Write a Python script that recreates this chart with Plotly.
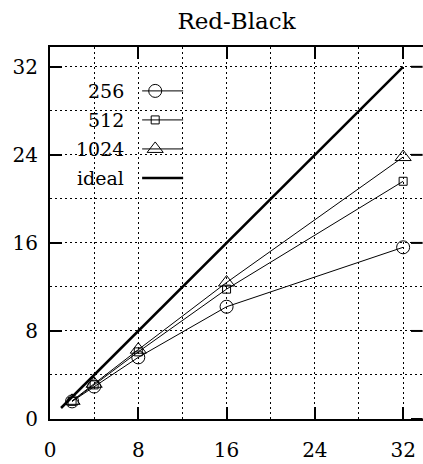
import plotly.graph_objects as go

# Speedup measurements for the Red-Black solver
procs = [2, 4, 8, 16, 32]
speedup_256 = [1.6, 2.95, 5.6, 10.2, 15.6]
speedup_512 = [1.6, 3.1, 6.1, 11.8, 21.6]
speedup_1024 = [1.65, 3.2, 6.3, 12.4, 23.8]
ideal_x = [1, 32]
ideal_y = [1, 32]

series_names = ["256", "512", "1024"]
series_values = [speedup_256, speedup_512, speedup_1024]
series_symbols = ["circle-open", "square-open", "triangle-up-open"]
series_sizes = [13, 8, 14]

tick_vals = [0, 8, 16, 24, 32]
tick_text = ["0", "8", "16", "24", "32"]

FONT = "DejaVu Serif"
W, H = 423, 464
ML, MR, MT, MB = 50, 0, 47, 45
RANGE = [0, 33.8]
TICKLEN = 12

fig = go.Figure()

for name, vals, sym, sz in zip(series_names, series_values, series_symbols, series_sizes):
    fig.add_trace(go.Scatter(
        x=procs, y=vals, mode="lines+markers", name=name, showlegend=False,
        line=dict(color="black", width=1),
        marker=dict(symbol=sym, size=sz, color="black", line=dict(color="black", width=1)),
    ))

fig.add_trace(go.Scatter(
    x=ideal_x, y=ideal_y, mode="lines", name="ideal", showlegend=False,
    line=dict(color="black", width=2.5),
))

# Hand-built key: labels on the left, line samples on the right
key_names = series_names + ["ideal"]
key_symbols = series_symbols + [None]
key_sizes = series_sizes + [0]
row0, row_step = 0.882, 0.078
text_x, line_x0, line_x1, mark_x = 0.204, 0.247, 0.357, 0.282
for i, (nm, sym, sz) in enumerate(zip(key_names, key_symbols, key_sizes)):
    ry = row0 - i * row_step
    is_ideal = sym is None
    fig.add_trace(go.Scatter(
        x=[line_x0, line_x1], y=[ry, ry], mode="lines", xaxis="x2", yaxis="y2",
        showlegend=False, hoverinfo="skip",
        line=dict(color="black", width=2.5 if is_ideal else 1),
    ))
    if not is_ideal:
        fig.add_trace(go.Scatter(
            x=[mark_x], y=[ry], mode="markers", xaxis="x2", yaxis="y2",
            showlegend=False, hoverinfo="skip",
            marker=dict(symbol=sym, size=sz, color="black", line=dict(color="black", width=1)),
        ))
    fig.add_annotation(
        x=text_x, y=ry, xref="x2", yref="y2", text=nm, showarrow=False,
        xanchor="right", yanchor="middle", font=dict(family=FONT, size=19, color="black"),
    )

# Tick marks along the right edge of the frame
plot_w = W - ML - MR
for tv in tick_vals:
    fig.add_shape(type="line", xref="paper", yref="y",
                  x0=0.999, x1=1 - TICKLEN / plot_w, y0=tv, y1=tv,
                  line=dict(color="black", width=2), layer="above")

grid_common = dict(gridcolor="black", gridwidth=1.3, griddash="2px,3px")

axis_common = dict(
    range=RANGE, tickvals=tick_vals, ticktext=tick_text,
    ticks="inside", ticklen=TICKLEN, tickwidth=2, tickcolor="black",
    showline=True, linecolor="black", linewidth=2,
    showgrid=True, zeroline=False, automargin=False,
    tickfont=dict(family=FONT, size=20, color="black"),
    minor=dict(dtick=4, tick0=0, showgrid=True, ticks="", **grid_common),
    **grid_common,
)

fig.update_layout(
    width=W, height=H,
    margin=dict(l=ML, r=MR, t=MT, b=MB, pad=0, autoexpand=False),
    paper_bgcolor="white", plot_bgcolor="white",
    font=dict(family=FONT, color="black"),
    title=dict(text="Red-Black", x=0.5, xref="paper", y=1 - 21 / H, yref="container",
               xanchor="center", yanchor="middle", automargin=False,
               font=dict(family=FONT, size=23, color="black")),
    xaxis=dict(mirror="ticks", ticklabelstandoff=12, **axis_common),
    yaxis=dict(mirror=False, ticklabelstandoff=6, **axis_common),
    xaxis2=dict(overlaying="x", range=[0, 1], visible=False),
    yaxis2=dict(overlaying="y", range=[0, 1], visible=False),
)

fig.write_html("out.html")
